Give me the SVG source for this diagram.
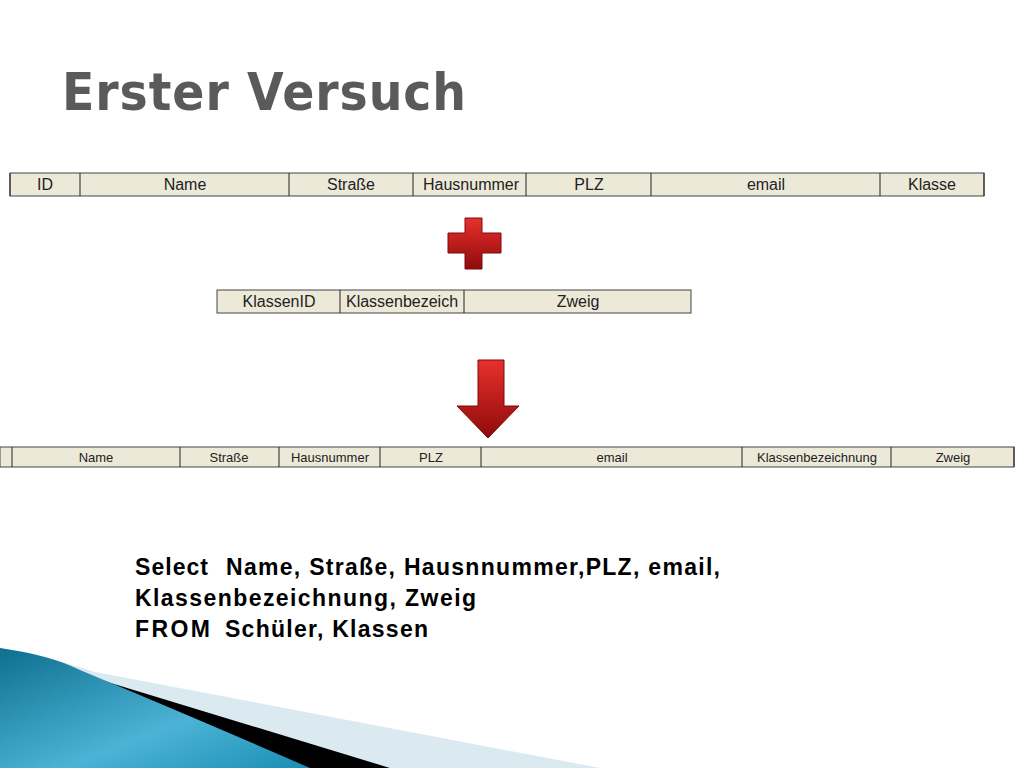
<svg xmlns="http://www.w3.org/2000/svg" width="1024" height="768" viewBox="0 0 1024 768">
<style>
.c{fill:#ece9d8;stroke:#444;stroke-width:1}
.t{font-family:"Liberation Sans",Arial,sans-serif;font-size:16px;fill:#222;text-anchor:middle}
.s{font-family:"Liberation Sans",Arial,sans-serif;font-size:13px;fill:#222;text-anchor:middle}
.q{font-family:"Liberation Sans",Arial,sans-serif;font-size:23px;font-weight:bold;fill:#000}
</style>
<defs>
<linearGradient id="red" x1="0" y1="0" x2="0" y2="1"><stop offset="0" stop-color="#e8302c"/><stop offset="1" stop-color="#8e0b0b"/></linearGradient>
<linearGradient id="blue" x1="0" y1="0" x2="1" y2="1"><stop offset="0" stop-color="#0e6f8e"/><stop offset="0.6" stop-color="#4cb3d6"/><stop offset="1" stop-color="#1a8fb4"/></linearGradient>
</defs>
<rect width="1024" height="768" fill="#fff"/>
<text x="62" y="110" font-family="'DejaVu Sans',sans-serif" font-size="52" font-weight="bold" fill="#5a5a5a" textLength="405" lengthAdjust="spacingAndGlyphs" letter-spacing="1">Erster Versuch</text>
<g id="table1">
<rect class="c" x="10" y="173" width="974" height="23"/>
<path d="M80 173V196M289 173V196M413 173V196M526 173V196M651 173V196M880 173V196M984 173V196M10 173V196" stroke="#222"/>
<text class="t" x="45" y="190">ID</text><text class="t" x="185" y="190">Name</text><text class="t" x="351" y="190">Straße</text><text class="t" x="471" y="190">Hausnummer</text><text class="t" x="589" y="190">PLZ</text><text class="t" x="766" y="190">email</text><text class="t" x="932" y="190">Klasse</text>
</g>
<g id="plus"><path d="M465 218h17v15h19v20h-19v16h-17v-16h-17v-20h17z" fill="url(#red)" stroke="#7a0a0a"/></g>
<g id="table2">
<rect class="c" x="217" y="290" width="474" height="23"/>
<path d="M340 290V313M464 290V313" stroke="#222"/>
<text class="t" x="279" y="307">KlassenID</text><text class="t" x="402" y="307">Klassenbezeich</text><text class="t" x="578" y="307">Zweig</text>
</g>
<g id="arrow"><path d="M478 360h26v46h15l-31 32l-31-32h21z" fill="url(#red)" stroke="#7a0a0a"/></g>
<g id="table3">
<rect class="c" x="0" y="447" width="1014" height="20"/>
<path d="M12 447V467M180 447V467M279 447V467M380 447V467M481 447V467M742 447V467M891 447V467M1014 447V467" stroke="#222"/>
<text class="s" x="96" y="462">Name</text><text class="s" x="229" y="462">Straße</text><text class="s" x="330" y="462">Hausnummer</text><text class="s" x="431" y="462">PLZ</text><text class="s" x="612" y="462">email</text><text class="s" x="817" y="462">Klassenbezeichnung</text><text class="s" x="953" y="462">Zweig</text>
</g>
<text class="q" x="135" y="575" textLength="73">Select</text><text class="q" x="226" y="575" textLength="494">Name, Straße, Hausnnummer,PLZ, email,</text>
<text class="q" x="135" y="606" textLength="341">Klassenbezeichnung, Zweig</text>
<text class="q" x="135" y="637" textLength="75">FROM</text><text class="q" x="225" y="637" textLength="203">Schüler, Klassen</text>
<path d="M0 648Q60 660 95 672L600 768H0Z" fill="#dbe9f0"/>
<path d="M55 666L390 768H0V650Z" fill="#000"/>
<path d="M0 648Q50 655 80 670Q200 720 310 768H0Z" fill="url(#blue)"/>
</svg>
